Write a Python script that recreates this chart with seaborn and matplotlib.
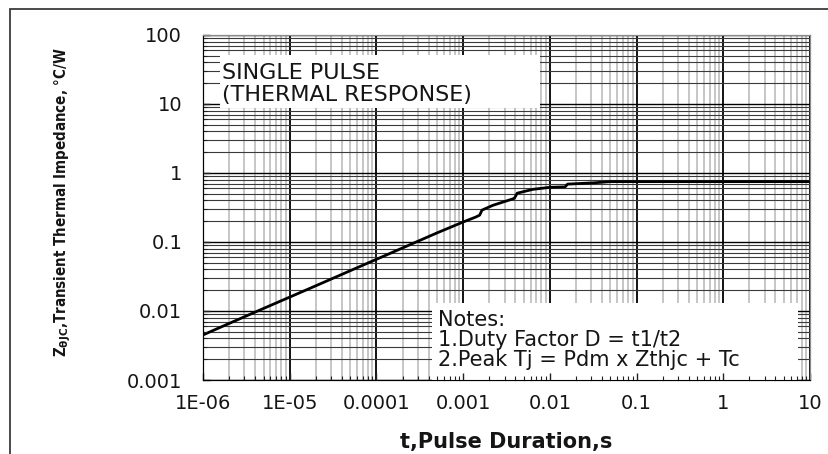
import numpy as np
import pandas as pd
import matplotlib
matplotlib.use("Agg")
import matplotlib.pyplot as plt
import seaborn as sns
from matplotlib import font_manager
from matplotlib.patches import Rectangle
from matplotlib.ticker import LogLocator, FixedLocator, FixedFormatter, NullFormatter

# --- values ---
pulse_t = [1e-6, 2e-6, 5e-6, 1e-5, 2e-5, 5e-5, 1e-4, 2e-4, 5e-4,
           1e-3, 1.4e-3, 1.55e-3, 1.65e-3, 2.2e-3,
           3.6e-3, 3.9e-3, 4.2e-3, 6.4e-3,
           1e-2, 1.5e-2, 1.6e-2, 3.2e-2, 5e-2,
           0.1, 1, 10]
zthjc = [0.0045, 0.0066, 0.0109, 0.0159, 0.0232, 0.0384, 0.0561, 0.082, 0.1355,
         0.195, 0.23, 0.245, 0.29, 0.34,
         0.415, 0.43, 0.51, 0.58,
         0.62, 0.63, 0.69, 0.72, 0.75,
         0.75, 0.75, 0.75]

x_ticks = [1e-6, 1e-5, 1e-4, 1e-3, 1e-2, 1e-1, 1, 10]
x_tick_labels = ['1E-06', '1E-05', '0.0001', '0.001', '0.01', '0.1', '1', '10']
y_ticks = [0.001, 0.01, 0.1, 1, 10, 100]
y_tick_labels = ['0.001', '0.01', '0.1', '1', '10', '100']

df = pd.DataFrame({'t': pulse_t, 'z': zthjc})

sns.set_style('white')
plt.rcParams['font.family'] = ['DejaVu Sans']
plt.rcParams['mathtext.fontset'] = 'custom'
plt.rcParams['mathtext.rm'] = 'DejaVu Sans:bold'
plt.rcParams['mathtext.it'] = 'DejaVu Sans:bold'
plt.rcParams['mathtext.bf'] = 'DejaVu Sans:bold'

# condensed bold for the y label if the condensed face exists
cond_path = font_manager.findfont(font_manager.FontProperties(
    family='DejaVu Sans', stretch='condensed', weight='bold'))
ylab_size = 10.8 if 'Condensed' in cond_path else 9.3

W, H = 829, 454
fig = plt.figure(figsize=(W / 100, H / 100), dpi=100)
ax = fig.add_axes([203 / W, 1 - 380 / H, (810 - 203) / W, (380 - 35) / H])
ax.set_xscale('log')
ax.set_yscale('log')
ax.set_xlim(1e-6, 10)
ax.set_ylim(1e-3, 100)

# --- grid: black decades, grey vertical minors, dark horizontal minors ---
ax.xaxis.set_major_locator(FixedLocator(x_ticks))
ax.xaxis.set_major_formatter(FixedFormatter(x_tick_labels))
ax.yaxis.set_major_locator(FixedLocator(y_ticks))
ax.yaxis.set_major_formatter(FixedFormatter(y_tick_labels))
ax.xaxis.set_minor_locator(LogLocator(base=10, subs=np.arange(2, 10), numticks=20))
ax.yaxis.set_minor_locator(LogLocator(base=10, subs=np.arange(2, 10), numticks=20))
ax.xaxis.set_minor_formatter(NullFormatter())
ax.yaxis.set_minor_formatter(NullFormatter())
ax.grid(which='minor', axis='x', color='#c6c6c6', lw=1.4)
ax.grid(which='major', axis='x', color='black', lw=1.3)
ax.grid(which='minor', axis='y', color='#3a3a3a', lw=0.8)
ax.grid(which='major', axis='y', color='black', lw=1.0)
ax.set_axisbelow(True)
ax.tick_params(which='both', length=0, labelsize=14, colors='#151515')
ax.tick_params(axis='x', pad=10)
ax.tick_params(axis='y', pad=15)

sns.lineplot(data=df, x='t', y='z', ax=ax, color='black', lw=2, estimator=None, sort=False, zorder=3)

ax.set_xlabel('t,Pulse Duration,s', fontsize=15, fontweight='bold', color='#151515')
ax.xaxis.set_label_coords(0.5, -0.15)
ax.set_ylabel(r'Z$_{θJC}$,Transient Thermal Impedance, °C/W', fontsize=ylab_size,
              fontweight='bold', fontstretch='condensed', color='#151515')
ax.yaxis.set_label_coords(-0.214, 0.517)

# --- white text boxes over the grid ---
ax.add_patch(Rectangle((0.028, 0.788), 0.527, 0.154, transform=ax.transAxes,
                       fc='white', ec='none', zorder=4))
ax.text(0.031, 0.859, 'SINGLE PULSE\n(THERMAL RESPONSE)', transform=ax.transAxes,
        fontsize=16, ha='left', va='center', linespacing=1.12, color='#151515', zorder=5)
ax.add_patch(Rectangle((0.377, 0.0), 0.603, 0.223, transform=ax.transAxes,
                       fc='white', ec='none', zorder=4))
ax.text(0.387, 0.116, 'Notes:\n1.Duty Factor D = t1/t2\n2.Peak Tj = Pdm x Zthjc + Tc',
        transform=ax.transAxes, fontsize=15, ha='left', va='center', linespacing=0.98,
        color='#151515', zorder=5)

for side in ['left', 'bottom']:
    ax.spines[side].set_color('black')
for side in ['top', 'right']:
    ax.spines[side].set_color('#8a8a8a')

# --- overlay axes just for the inward ticks drawn over the boxes ---
ov = fig.add_axes(ax.get_position(), sharex=ax, sharey=ax)
ov.patch.set_visible(False)
ov.grid(False)
ov.tick_params(which='both', direction='in', labelbottom=False, labelleft=False,
               bottom=True, left=True, colors='#222222')
ov.tick_params(which='major', length=5, width=1)
ov.tick_params(which='minor', length=3, width=0.8)
ov.set_xlabel('')
ov.set_ylabel('')
for side in ['left', 'bottom']:
    ov.spines[side].set_color('black')
for side in ['top', 'right']:
    ov.spines[side].set_color('#8a8a8a')
ov.set_zorder(2)

# --- outer frame of the figure ---
fig.patches.append(Rectangle((10 / W, -0.1), 1.2, 1.1 - 9 / H, transform=fig.transFigure,
                             fill=False, ec='#3c3c3c', lw=1.3))

fig.savefig('out.png', dpi=100)
